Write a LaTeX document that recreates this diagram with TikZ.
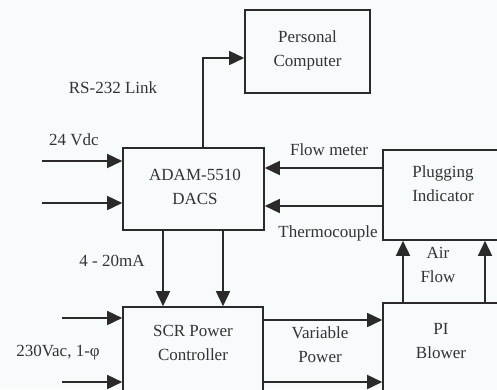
\documentclass[tikz,border=0pt]{standalone}
\usepackage{fontspec}
\setmainfont{Liberation Serif}
\usetikzlibrary{arrows.meta}
\definecolor{linec}{HTML}{2A2A2A}
\definecolor{textc}{HTML}{333333}
\definecolor{bgc}{HTML}{F8FBFC}
\begin{document}
\begin{tikzpicture}[x=1pt,y=-1pt,
  box/.style={draw=linec,line width=1.6pt,rectangle,inner sep=0pt,fill=bgc},
  lbl/.style={text=textc,font=\fontsize{17}{24}\selectfont,align=center,inner sep=0pt},
  arr/.style={draw=linec,line width=1.6pt,-{Triangle[length=15pt,width=14pt]}}]
\clip (0,0) rectangle (497,389);
\fill[bgc] (0,0) rectangle (497,389);
% boxes
\node[box,minimum width=125pt,minimum height=83pt] (pc) at (307.5,51.5) {};
\node[lbl] (pct) at (307.5,50) {Personal\\Computer};
\node[box,minimum width=141pt,minimum height=82pt] (adam) at (193.5,189) {};
\node[lbl] (adamt) at (195,187) {ADAM-5510\\DACS};
\node[box,minimum width=120pt,minimum height=90pt] (plug) at (443,195) {};
\node[lbl] (plugt) at (443,184) {Plugging\\Indicator};
\node[box,minimum width=140pt,minimum height=93pt] (scr) at (193,353.5) {};
\node[lbl] (scrt) at (193,343) {SCR Power\\Controller};
\node[box,minimum width=120pt,minimum height=97pt] (pi) at (443,351.5) {};
\node[lbl] (pit) at (441,341) {PI\\Blower};
% free ends
\coordinate (v1) at (42,161);
\coordinate (v2) at (42,203);
\coordinate (a1) at (62,318);
\coordinate (a2) at (62,382);
% connectors
\draw[arr] (adam.north -| 203,0) |- (pc.west |- 0,58);
\draw[arr] (v1) -- (adam.west |- v1);
\draw[arr] (v2) -- (adam.west |- v2);
\draw[arr] (plug.west |- 0,168) -- (adam.east |- 0,168);
\draw[arr] (plug.west |- 0,206) -- (adam.east |- 0,206);
\draw[arr] (adam.south -| 163,0) -- (scr.north -| 163,0);
\draw[arr] (adam.south -| 223,0) -- (scr.north -| 223,0);
\draw[arr] (a1) -- (scr.west |- a1);
\draw[arr] (a2) -- (scr.west |- a2);
\draw[arr] (scr.east |- 0,320) -- (pi.west |- 0,320);
\draw[arr] (scr.east |- 0,382) -- (pi.west |- 0,382);
\draw[arr] (pi.north -| 403,0) -- (plug.south -| 403,0);
\draw[arr] (pi.north -| 485,0) -- (plug.south -| 485,0);
% labels
\node[lbl] (l24) at (74,140) {24 Vdc};
\node[lbl] (lrs) at (113,88) {RS-232 Link};
\node[lbl] (lfm) at (329,150) {Flow meter};
\node[lbl] (lth) at (328,233) {Thermocouple};
\node[lbl] (lma) at (112,261) {4 - 20mA};
\node[lbl] (lac) at (58,353) {230Vac, 1-φ};
\node[lbl] (lvp) at (320,345) {Variable\\Power};
\node[lbl] (laf) at (438,265) {Air\\Flow};
\end{tikzpicture}
\end{document}
